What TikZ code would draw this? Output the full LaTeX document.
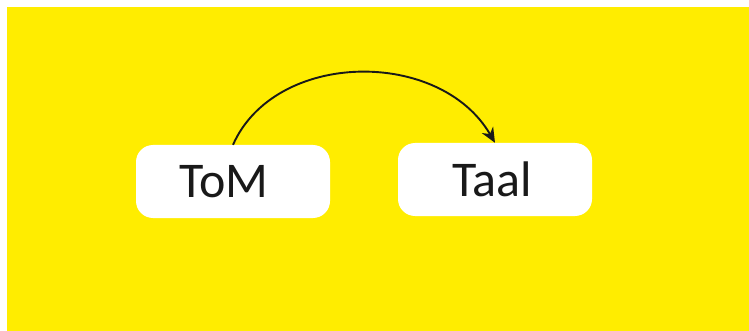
\documentclass[tikz,border=0pt]{standalone}
\usepackage{fontspec}
\setmainfont{Carlito}
\usepackage{tikz}
\usetikzlibrary{arrows.meta}
\definecolor{bgyellow}{RGB}{255,237,0}
\definecolor{inkgray}{RGB}{25,25,25}

\begin{document}
\begin{tikzpicture}[x=1pt, y=-1pt, every node/.style={font=\fontsize{50}{52}\selectfont, text=inkgray}, >={Stealth[length=15pt, width=13pt]},
	wordbox/.style={fill=white, rounded corners=17pt, minimum width=194pt, minimum height=73pt, inner sep=0pt}]
	\useasboundingbox (0,0) rectangle (749,331);
	\fill[white] (0,0) rectangle (749,331);
	\fill[bgyellow] (7,7) rectangle (749,331);
	\node[wordbox] (tom) at (233,181.5) {ToM\hspace*{18pt}};
	\node[wordbox] (taal) at (495,179.5) {Taal\hspace*{6pt}};
	\draw[->, inkgray, line width=1.9pt] (tom.north) .. controls (275,50) and (440,48) .. (taal.north);
\end{tikzpicture}
\end{document}
